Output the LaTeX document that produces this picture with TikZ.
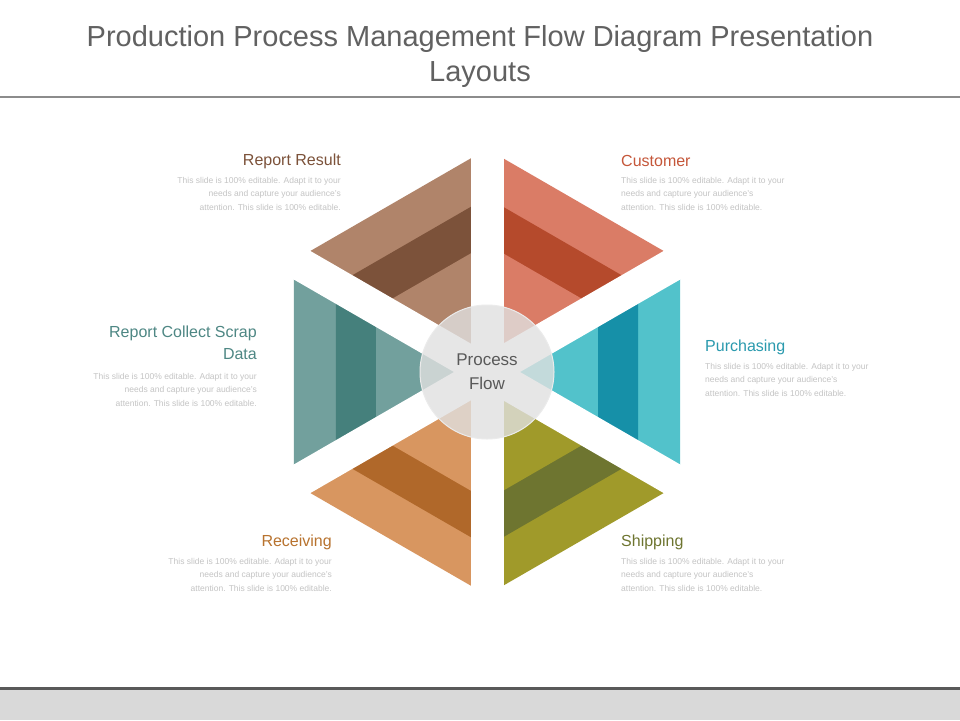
\documentclass[tikz,border=0pt]{standalone}
\usepackage{fontspec}
\setmainfont{Liberation Sans}
\usetikzlibrary{calc}
\begin{document}
\begin{tikzpicture}[x=1pt,y=-1pt,
  lbl/.style={font=\fontsize{16}{22}\selectfont, inner sep=0pt},
  body/.style={font=\fontsize{8.5}{13.5}\selectfont, text=bodygray, inner sep=0pt}]
\definecolor{bodygray}{HTML}{C4C4C4}
\useasboundingbox (0,0) rectangle (960,720);
\fill[white] (0,0) rectangle (960,720);
\node[font=\fontsize{29}{35}\selectfont, text=black!62, align=center] (title) at (480,57) {Production Process Management Flow Diagram Presentation\\Layouts};
\draw[line width=2pt, black!45] (0,97) -- (960,97);
\draw[line width=3pt, black!65] (0,688) -- (960,688);
\fill[black!15] (0,690) rectangle (960,720);
\coordinate (c) at (487,372);
\foreach \a/\lt/\dk in {90/B0846A/7C523A, 30/DA7C66/B54A2C, -30/52C2CB/1690A8, -90/A09A2A/6E7530, -150/D89660/B0682A, 150/72A09D/45807C}{
  \definecolor{lt}{HTML}{\lt}\definecolor{dk}{HTML}{\dk}
  \pgfmathsetmacro\b{\a+60}
  \fill[lt] (c) -- ($(c)+(-\a:223)$) -- ($(c)+(-\b:223)$) -- cycle;
  \fill[dk] (c) -- ($(c)+(-\a:174.5)$) -- ($(c)+(-\b:174.5)$) -- cycle;
  \fill[lt] (c) -- ($(c)+(-\a:128)$) -- ($(c)+(-\b:128)$) -- cycle;
}
\foreach \a in {90,30,-30,-90,-150,150}{
  \draw[white, line width=33pt] (c) -- ($(c)+(-\a:240)$);
}
\node[circle, minimum size=134pt, fill=black!12, fill opacity=0.8, draw=black!8, line width=1pt, text opacity=1, text=black!65, align=center, font=\fontsize{17}{24}\selectfont] (pf) at (c) {Process\\Flow};
% labels
\definecolor{rrc}{HTML}{7C523A}
\node[lbl, text=rrc, anchor=east] (rr) at (341,161) {Report Result};
\node[body, anchor=north east, align=right] (rrb) at (341,177) {This slide is 100\% editable. Adapt it to your\\needs and capture your audience's\\attention. This slide is 100\% editable.};
\definecolor{custc}{HTML}{C5573A}
\node[lbl, text=custc, anchor=west] (cu) at (621,161) {Customer};
\node[body, anchor=north west, align=left] (cub) at (621,177) {This slide is 100\% editable. Adapt it to your\\needs and capture your audience's\\attention. This slide is 100\% editable.};
\definecolor{purc}{HTML}{2A9AAE}
\node[lbl, text=purc, anchor=west] (pu) at (705,347) {Purchasing};
\node[body, anchor=north west, align=left] (pub) at (705,363) {This slide is 100\% editable. Adapt it to your\\needs and capture your audience's\\attention. This slide is 100\% editable.};
\definecolor{repc}{HTML}{4E8784}
\node[lbl, text=repc, anchor=north east, align=right] (rc) at (257,326) {Report Collect Scrap\\Data};
\node[body, anchor=north east, align=right] (rcb) at (257,373) {This slide is 100\% editable. Adapt it to your\\needs and capture your audience's\\attention. This slide is 100\% editable.};
\definecolor{recc}{HTML}{B8732F}
\node[lbl, text=recc, anchor=east] (re) at (332,542) {Receiving};
\node[body, anchor=north east, align=right] (reb) at (332,558) {This slide is 100\% editable. Adapt it to your\\needs and capture your audience's\\attention. This slide is 100\% editable.};
\definecolor{shic}{HTML}{6E7530}
\node[lbl, text=shic, anchor=west] (sh) at (621,542) {Shipping};
\node[body, anchor=north west, align=left] (shb) at (621,558) {This slide is 100\% editable. Adapt it to your\\needs and capture your audience's\\attention. This slide is 100\% editable.};
\end{tikzpicture}
\end{document}
